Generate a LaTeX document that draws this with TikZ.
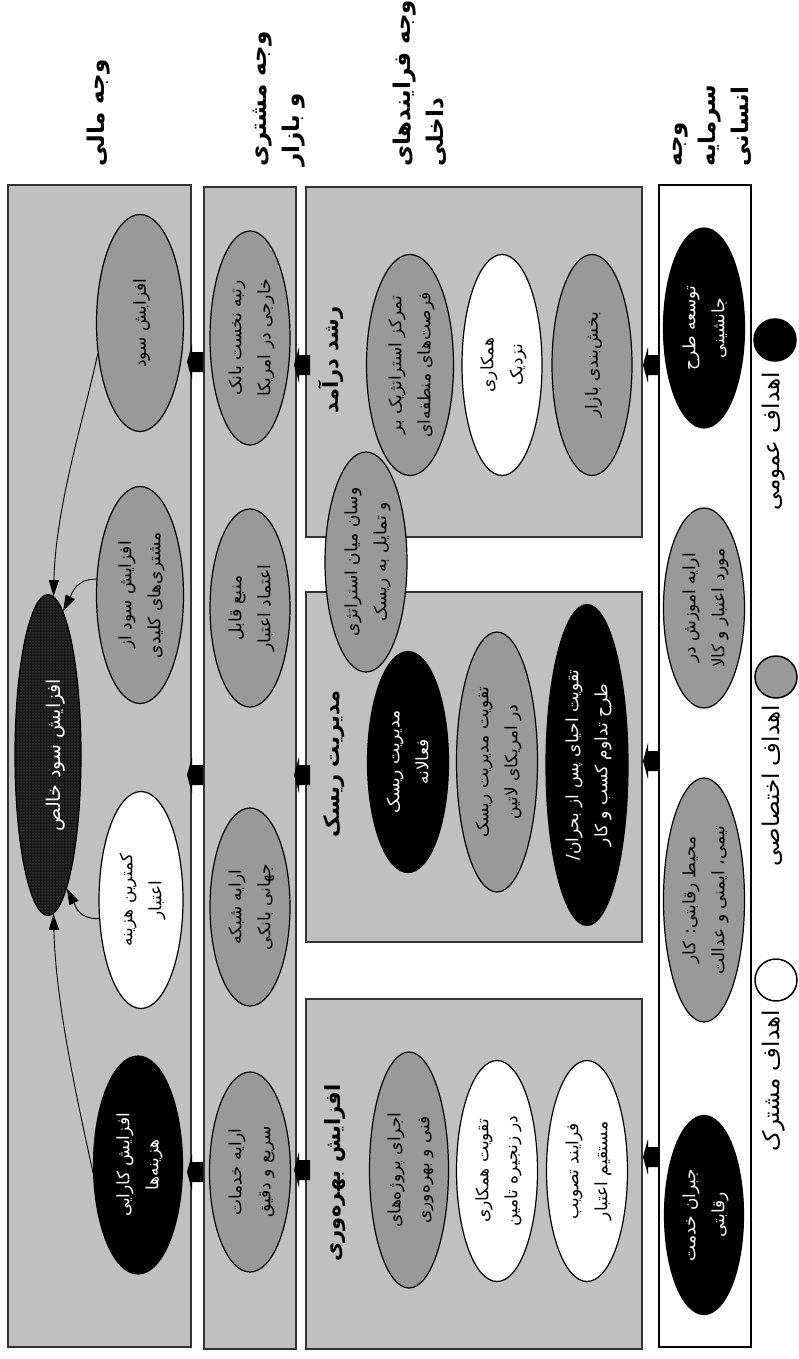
\documentclass[tikz,border=0pt]{standalone}
\usepackage{fontspec}
\newfontfamily\fa[Script=Arabic]{DejaVu Sans}
\usetikzlibrary{shapes.geometric,arrows.meta,patterns}
\TeXXeTstate=1
\definecolor{boxgray}{HTML}{C0C0C0}
\definecolor{ellgray}{HTML}{999999}
\newcommand\rl[1]{\beginR #1\endR}
\newcommand\rt[2][c]{\rotatebox{90}{\begin{tabular}{@{}#1@{}}#2\end{tabular}}}
\tikzset{
 panel/.style={draw=black!80, line width=1.3pt, fill=boxgray},
 wpanel/.style={draw=black, line width=1.3pt, fill=white},
 ell/.style={ellipse, draw=black, line width=1.2pt, inner sep=0pt},
 eg/.style={ell, fill=ellgray},
 ew/.style={ell, fill=white},
 eb/.style={ell, fill=black},
 tx/.style={inner sep=0pt, font=\fa\fontsize{17}{29}\selectfont},
 txw/.style={tx, text=white},
 lbl/.style={inner sep=0pt, font=\fa\bfseries\fontsize{21}{30}\selectfont},
 head/.style={inner sep=0pt, anchor=south, font=\fa\bfseries\fontsize{23}{33}\selectfont},
 legtx/.style={inner sep=0pt, anchor=north, font=\fa\fontsize{23}{30}\selectfont},
 legc/.style={circle, draw=black, line width=1.5pt, minimum size=42pt, inner sep=0pt},
 link/.style={line width=0.9pt, -{Triangle[length=16pt,width=10pt]}},
 larr/.pic={\fill[black] (0,0) -- (5,-18) -- (5,-10) -- (16,-10) -- (16,10) -- (5,10) -- (5,18) -- cycle;},
}
\begin{document}
\begin{tikzpicture}[x=1pt,y=-1pt]
\useasboundingbox (0,0) rectangle (798,1359);
% panels
\draw[panel] (8,185) rectangle (191,1347);
\draw[panel] (204,187) rectangle (296,1349);
\draw[panel] (306,187) rectangle (642,537);
\draw[panel] (306,592) rectangle (642,942);
\draw[panel] (306,999) rectangle (642,1349);
\draw[wpanel] (659,185) rectangle (751,1347);
% block arrows
\foreach \yy in {362,775,1172} {\pic at (187,\yy) {larr};}
\foreach \yy in {365,775,1170} {\pic at (294,\yy) {larr};}
\foreach \yy in {365,761,1157} {\pic at (643,\yy) {larr};}
% headings
\node[head] (hd1) at (98,167) {\rt[l]{\rl{وجه مالی}}};
\node[head] (hd2) at (276,167) {\rt[l]{\rl{وجه مشتری}\\\rl{و بازار}}};
\node[head] (hd3) at (420,167) {\rt[l]{\rl{وجه فرایندهای}\\\rl{داخلی}}};
\node[head] (hd4) at (709,167) {\rt[l]{\rl{وجه}\\\rl{سرمایه}\\\rl{انسانی}}};
% column 1
\node[eg, minimum width=87pt, minimum height=217pt] (f1) at (140,323) {};
\node[tx] (f1t) at (f1) {\rt{\rl{افزایش سود}}};
\node[eg, minimum width=87pt, minimum height=217pt] (f2) at (140,595) {};
\node[tx] (f2t) at (f2) {\rt{\rl{افزایش سود از}\\\rl{مشتری‌های کلیدی}}};
\node[ew, minimum width=84pt, minimum height=217pt] (f3) at (141,900) {};
\node[tx] (f3t) at (f3) {\rt{\rl{کمترین هزینه}\\\rl{اعتبار}}};
\node[eb, minimum width=89pt, minimum height=218pt] (f4) at (138,1165) {};
\node[txw] (f4t) at (f4) {\rt{\rl{افزایش کارایی}\\\rl{هزینه‌ها}}};
\node[ell, minimum width=66pt, minimum height=321pt, preaction={fill=black!90}, pattern=dots, pattern color=gray] (m) at (48,755) {};
\node[txw, font=\fa\fontsize{19}{29}\selectfont] (mt) at (55,755) {\rt{\rl{افزایش سود خالص}}};
% column 2
\node[eg, minimum width=80pt, minimum height=214pt] (c1) at (250,338) {};
\node[tx] (c1t) at (c1) {\rt{\rl{رتبه نخست بانک}\\\rl{خارجی در امریکا}}};
\node[eg, minimum width=80pt, minimum height=198pt] (c2) at (250,608) {};
\node[tx] (c2t) at (c2) {\rt{\rl{منبع قابل}\\\rl{اعتماد اعتبار}}};
\node[eg, minimum width=80pt, minimum height=198pt] (c3) at (250,907) {};
\node[tx] (c3t) at (c3) {\rt{\rl{ارایه شبکه}\\\rl{جهانی بانکی}}};
\node[eg, minimum width=81pt, minimum height=200pt] (c4) at (250,1172) {};
\node[tx] (c4t) at (c4) {\rt{\rl{ارایه خدمات}\\\rl{سریع و دقیق}}};
% column 3
\node[lbl] (l1) at (332,360) {\rt{\rl{رشد درآمد}}};
\node[lbl] (l2) at (333,764) {\rt{\rl{مدیریت ریسک}}};
\node[lbl] (l3) at (334,1173) {\rt{\rl{افزایش بهره‌وری}}};
\node[eg, minimum width=87pt, minimum height=221pt] (p1) at (410,365) {};
\node[tx] (p1t) at (p1) {\rt{\rl{تمرکز استراتژیک بر}\\\rl{فرصت‌های منطقه‌ای}}};
\node[ew, minimum width=80pt, minimum height=221pt] (p2) at (502,365) {};
\node[tx] (p2t) at (p2) {\rt{\rl{همکاری}\\\rl{نزدیک}}};
\node[eg, minimum width=80pt, minimum height=221pt] (p3) at (592,365) {};
\node[tx] (p3t) at (p3) {\rt{\rl{بخش‌بندی بازار}}};
\node[eg, minimum width=82pt, minimum height=220pt] (p4) at (366,562) {};
\node[tx] (p4t) at (p4) {\rt{\rl{وسان میان استراتژی}\\\rl{و تمایل به ریسک}}};
\node[eb, minimum width=81pt, minimum height=221pt] (p5) at (408,762) {};
\node[txw] (p5t) at (p5) {\rt{\rl{مدیریت ریسک}\\\rl{فعالانه}}};
\node[eg, minimum width=81pt, minimum height=260pt] (p6) at (497,762) {};
\node[tx] (p6t) at (p6) {\rt{\rl{تقویت مدیریت ریسک}\\\rl{در امریکای لاتین}}};
\node[eb, minimum width=82pt, minimum height=321pt] (p7) at (587,765) {};
\node[txw] (p7t) at (p7) {\rt{\rl{تقویت احیای پس از بحران/}\\\rl{طرح تداوم کسب و کار}}};
\node[eg, minimum width=79pt, minimum height=236pt] (p8) at (409,1170) {};
\node[tx] (p8t) at (p8) {\rt{\rl{اجرای پروژه‌های}\\\rl{فنی و بهره‌وری}}};
\node[ew, minimum width=81pt, minimum height=221pt] (p9) at (497,1171) {};
\node[tx] (p9t) at (p9) {\rt{\rl{تقویت همکاری}\\\rl{در زنجیره تامین}}};
\node[ew, minimum width=81pt, minimum height=221pt] (p10) at (587,1171) {};
\node[tx] (p10t) at (p10) {\rt{\rl{فرایند تصویب}\\\rl{مستقیم اعتبار}}};
% column 4
\node[eb, minimum width=81pt, minimum height=200pt] (h1) at (704,328) {};
\node[txw] (h1t) at (h1) {\rt{\rl{توسعه طرح}\\\rl{جانشینی}}};
\node[eg, minimum width=81pt, minimum height=200pt] (h2) at (704,608) {};
\node[tx] (h2t) at (h2) {\rt{\rl{ارایه اموزش در}\\\rl{مورد اعتبار و کالا}}};
\node[eg, minimum width=81pt, minimum height=244pt] (h3) at (704,900) {};
\node[tx] (h3t) at (h3) {\rt{\rl{محیط رقابتی: کار}\\\rl{تیمی، ایمنی و عدالت}}};
\node[eb, minimum width=79pt, minimum height=199pt] (h4) at (704,1215) {};
\node[txw] (h4t) at (h4) {\rt{\rl{جبران خدمت}\\\rl{رقابتی}}};
% legend
\node[legc, fill=black] (k1) at (775,340) {};
\node[legtx] (k1t) at (773,372) {\rt{\rl{اهداف عمومی}}};
\node[legc, fill=ellgray] (k2) at (776,677) {};
\node[legtx] (k2t) at (773,705) {\rt{\rl{اهداف اختصاصی}}};
\node[legc, fill=white] (k3) at (776,980) {};
\node[legtx] (k3t) at (773,1010) {\rt{\rl{اهداف مشترک}}};
% connectors
\draw[link] (f1.216) .. controls +(-13,62) and +(2,-90) .. (m.88);
\draw[link] (f2.160) .. controls +(-20,0) and +(10,-20) .. (m.84);
\draw[link] (f3.204) .. controls +(-20,0) and +(10,20) .. (m.-82);
\draw[link] (f4.190) .. controls +(-15,-70) and +(2,90) .. (m.-88);
\end{tikzpicture}
\end{document}
